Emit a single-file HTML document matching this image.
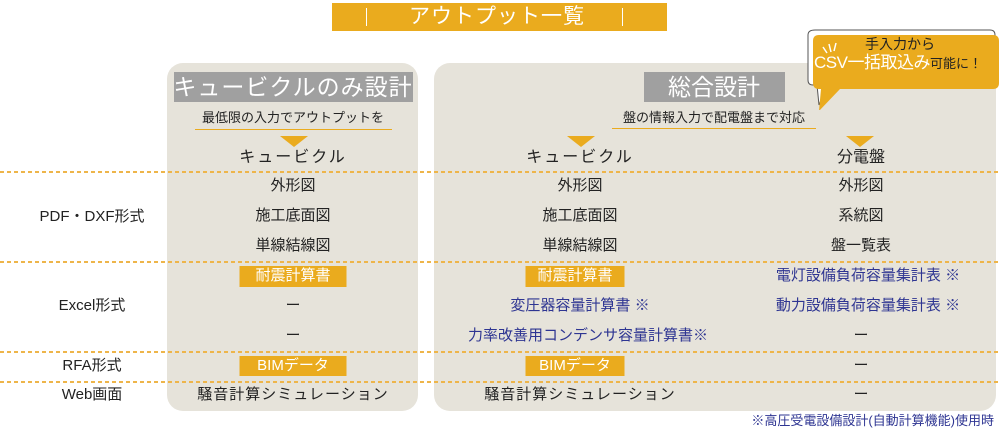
<!DOCTYPE html>
<html><head><meta charset="utf-8"><style>
body{margin:0;width:1000px;height:434px;background:#fff;position:relative;overflow:hidden;font-family:"Liberation Sans","Noto Sans CJK JP",sans-serif;color:#222}
.a{position:absolute}
.t{position:absolute;white-space:nowrap;transform:translateX(-50%);font-size:15px;line-height:20px;text-align:center}
.b{color:#2e3592}
.hl{background:#eaab1e;color:#fff;padding:0 10px}
.dash{position:absolute;left:0;width:1000px;height:2px;background:repeating-linear-gradient(90deg,#eeb54a 0 4px,transparent 4px 7px)}
.tri{position:absolute;width:0;height:0;border-left:14px solid transparent;border-right:14px solid transparent;border-top:11px solid #eaab1e}
</style></head><body>
<div class="a" style="left:332px;top:3px;width:335px;height:28px;background:#eaab1e"></div>
<div class="a" style="left:366px;top:8px;width:1px;height:18px;background:#fff"></div>
<div class="a" style="left:622px;top:8px;width:1px;height:18px;background:#fff"></div>
<div class="t" style="left:497px;top:4px;font-size:21px;line-height:26px;color:#fff;letter-spacing:1px">アウトプット一覧</div>

<div class="a" style="left:167px;top:63px;width:251px;height:348px;background:#e6e3da;border-radius:16px"></div>
<div class="a" style="left:434px;top:63px;width:562px;height:348px;background:#e6e3da;border-radius:16px"></div>

<div class="a" style="left:174px;top:72px;width:239px;height:30px;background:#a0a0a0"></div>
<div class="t" style="left:293px;top:73px;font-size:23px;line-height:28px;color:#fff;letter-spacing:1px">キュービクルのみ設計</div>
<div class="a" style="left:644px;top:72px;width:141px;height:30px;background:#a0a0a0"></div>
<div class="t" style="left:714px;top:73px;font-size:23px;line-height:28px;color:#fff">総合設計</div>

<div class="t" style="left:293px;top:108px;font-size:13px">最低限の入力でアウトプットを</div>
<div class="a" style="left:195px;top:129px;width:197px;height:1px;background:#eaab1e"></div>
<div class="t" style="left:714px;top:108px;font-size:13px">盤の情報入力で配電盤まで対応</div>
<div class="a" style="left:612px;top:128px;width:204px;height:1px;background:#eaab1e"></div>

<div class="tri" style="left:280px;top:136px"></div>
<div class="tri" style="left:567px;top:136px"></div>
<div class="tri" style="left:846px;top:136px"></div>

<svg class="a" style="left:805px;top:25px" width="195" height="85">
<path d="M10 5 H185 Q190 5 190 10 V55 Q190 60 185 60 H22 L14 80 L12 60 H8 Q3 60 3 55 V10 Q3 5 10 5Z" fill="#fff" stroke="#555" stroke-width="1"/>
<path d="M14 10 H188 Q194 10 194 16 V58 Q194 64 188 64 H35 L14 86 L16 64 H14 Q8 64 8 58 V16 Q8 10 14 10Z" fill="#eaab1e"/>
<path d="M18 22 L22 28 M24 19 L26 27 M31 18 L29 26" stroke="#fff" stroke-width="1.5"/>
</svg>
<div class="t" style="left:900px;top:34px;font-size:14px">手入力から</div>
<div class="a" style="left:814px;top:52px;font-size:17px;line-height:22px;color:#fff;white-space:nowrap;letter-spacing:-0.5px">CSV一括取込み<span style="font-size:13px;color:#222;letter-spacing:0">可能に！</span></div>

<div class="t" style="left:293px;top:148px;font-size:16px;letter-spacing:2px">キュービクル</div>
<div class="t" style="left:580px;top:148px;font-size:16px;letter-spacing:2px">キュービクル</div>
<div class="t" style="left:861px;top:148px;font-size:16px">分電盤</div>

<div class="dash" style="top:171px"></div>
<div class="dash" style="top:261px"></div>
<div class="dash" style="top:351px"></div>
<div class="dash" style="top:381px"></div>

<div class="t" style="left:92px;top:207px">PDF・DXF形式</div>
<div class="t" style="left:92px;top:296px">Excel形式</div>
<div class="t" style="left:92px;top:356px">RFA形式</div>
<div class="t" style="left:92px;top:385px">Web画面</div>

<div class="t" style="left:293px;top:176px">外形図</div>
<div class="t" style="left:293px;top:206px">施工底面図</div>
<div class="t" style="left:293px;top:236px">単線結線図</div>
<div class="t hl" style="left:293px;top:266px;width:87px;height:21px">耐震計算書</div>
<div class="t" style="left:293px;top:296px">ー</div>
<div class="t" style="left:293px;top:326px">ー</div>
<div class="t hl" style="left:293px;top:356px;width:87px;height:20px">BIMデータ</div>
<div class="t" style="left:293px;top:385px;letter-spacing:1px">騒音計算シミュレーション</div>

<div class="t" style="left:580px;top:176px">外形図</div>
<div class="t" style="left:580px;top:206px">施工底面図</div>
<div class="t" style="left:580px;top:236px">単線結線図</div>
<div class="t hl" style="left:575px;top:266px;width:79px;height:21px">耐震計算書</div>
<div class="t b" style="left:580px;top:296px">変圧器容量計算書 ※</div>
<div class="t b" style="left:588px;top:326px">力率改善用コンデンサ容量計算書※</div>
<div class="t hl" style="left:575px;top:356px;width:79px;height:20px">BIMデータ</div>
<div class="t" style="left:580px;top:385px;letter-spacing:1px">騒音計算シミュレーション</div>

<div class="t" style="left:861px;top:176px">外形図</div>
<div class="t" style="left:861px;top:206px">系統図</div>
<div class="t" style="left:861px;top:236px">盤一覧表</div>
<div class="t b" style="left:868px;top:266px">電灯設備負荷容量集計表 ※</div>
<div class="t b" style="left:868px;top:296px">動力設備負荷容量集計表 ※</div>
<div class="t" style="left:861px;top:326px">ー</div>
<div class="t" style="left:861px;top:356px">ー</div>
<div class="t" style="left:861px;top:385px">ー</div>

<div class="a b" style="right:6px;top:412px;font-size:13px;line-height:18px;white-space:nowrap">※高圧受電設備設計(自動計算機能)使用時</div>
</body></html>
